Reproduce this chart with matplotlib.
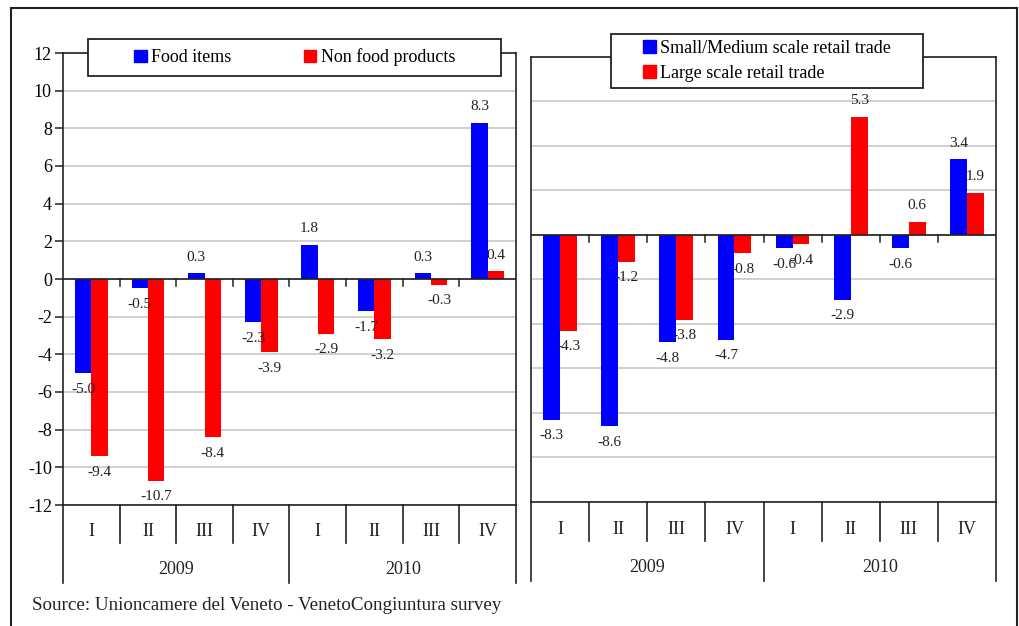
import numpy as np
import matplotlib.pyplot as plt
from matplotlib.patches import Rectangle, Patch
from matplotlib.lines import Line2D
from matplotlib.transforms import blended_transform_factory

plt.rcParams['font.family'] = ['Liberation Serif', 'DejaVu Serif']
plt.rcParams['axes.unicode_minus'] = False

# data
quarters = ['I', 'II', 'III', 'IV', 'I', 'II', 'III', 'IV']
years = ['2009', '2010']

food = [-5.0, -0.5, 0.3, -2.3, 1.8, -1.7, 0.3, 8.3]
non_food = [-9.4, -10.7, -8.4, -3.9, -2.9, -3.2, -0.3, 0.4]

small_medium = [-8.3, -8.6, -4.8, -4.7, -0.6, -2.9, -0.6, 3.4]
large_scale = [-4.3, -1.2, -3.8, -0.8, -0.4, 5.3, 0.6, 1.9]

W, H = 1020, 626
fig = plt.figure(figsize=(W / 100, H / 100), dpi=100)


def px_box(x0, y0, x1, y1):
    # pixel box (top-left origin) -> figure fraction rect
    return [x0 / W, 1 - y1 / H, (x1 - x0) / W, (y1 - y0) / H]


def fy(py):
    return 1 - py / H


def draw_panel(ax, box, s1, s2, ymin, ymax, show_y, row_px):
    x = np.arange(len(quarters))
    w = 0.29
    b1 = ax.bar(x - w / 2, s1, w, color='#0000ff', zorder=3)
    b2 = ax.bar(x + w / 2, s2, w, color='#ff0000', zorder=3)
    for bars in (b1, b2):
        ax.bar_label(bars, fmt='%.1f', padding=7, fontsize=11,
                     color='#222222', zorder=6)

    ax.set_xlim(-0.5, len(quarters) - 0.5)
    ax.set_ylim(ymin, ymax)
    ax.set_yticks(np.arange(ymin, ymax + 1, 2))
    ax.yaxis.grid(True, color='#c8c8c8', lw=1.2)
    ax.set_axisbelow(True)
    ax.axhline(0, color='#222222', lw=1.2, zorder=4)
    ax.set_xticks([])
    for sp in ax.spines.values():
        sp.set_color('#222222')
        sp.set_linewidth(1.2)
    if show_y:
        ax.tick_params(axis='y', length=6, width=1.1, color='#222222',
                       labelsize=13, pad=2)
    else:
        ax.tick_params(axis='y', left=False, labelleft=False)

    # small ticks under the zero line
    px_per_unit = (box[3] - box[1]) / (ymax - ymin)
    tlen = 7 / px_per_unit
    for b in np.arange(0.5, len(quarters) - 1, 1):
        ax.plot([b, b], [0, -tlen], color='#222222', lw=1.1, zorder=4)

    # two-level category axis below the plot
    tr = blended_transform_factory(ax.transData, fig.transFigure)
    bottom = box[3]
    for b in np.arange(0.5, len(quarters) - 1, 1):
        if b == 3.5:
            continue
        ax.plot([b, b], [fy(bottom), fy(row_px[0] + 11)], transform=tr,
                color='#222222', lw=1.2, clip_on=False)
    for b in [-0.5, 3.5, 7.5]:
        ax.plot([b, b], [fy(bottom), fy(row_px[1] + 13)], transform=tr,
                color='#222222', lw=1.2, clip_on=False)
    for i, q in enumerate(quarters):
        ax.text(i, fy(row_px[0]), q, transform=tr, ha='center', va='center',
                fontsize=13, color='#222222')
    for j, yr in enumerate(years):
        ax.text(1.5 + 4 * j, fy(row_px[1]), yr, transform=tr, ha='center',
                va='center', fontsize=13, color='#222222')


box1 = (63, 53, 516, 505)
box2 = (531, 57, 996, 502)
ax1 = fig.add_axes(px_box(*box1))
ax2 = fig.add_axes(px_box(*box2))

draw_panel(ax1, box1, food, non_food, -12, 12, True, (532, 570))
draw_panel(ax2, box2, small_medium, large_scale, -12, 8, False, (530, 568))

# legends: white framed boxes drawn on top of the axes
for (x0, y0, x1, y1) in [(88, 39, 501, 76), (611, 34, 923, 88)]:
    fig.add_artist(Rectangle((x0 / W, fy(y1)), (x1 - x0) / W, (y1 - y0) / H,
                             transform=fig.transFigure, facecolor='white',
                             edgecolor='#222222', lw=1.3, zorder=5))

h1 = [Patch(color='#0000ff', label='Food items'),
      Patch(color='#ff0000', label='Non food products')]
fig.legend(handles=h1, loc='center', bbox_to_anchor=(294.5 / W, fy(57.5)),
           ncol=2, frameon=False, fontsize=13, handlelength=0.7,
           handleheight=0.7, handletextpad=0.25, columnspacing=4.0,
           borderpad=0).set_zorder(6)

h2 = [Patch(color='#0000ff', label='Small/Medium scale retail trade'),
      Patch(color='#ff0000', label='Large scale retail trade')]
fig.legend(handles=h2, loc='center', bbox_to_anchor=(767 / W, fy(61)),
           ncol=1, frameon=False, fontsize=13, handlelength=0.7,
           handleheight=0.7, handletextpad=0.25, labelspacing=0.45,
           borderpad=0).set_zorder(6)

# outer frame
frame_kw = dict(color='#222222', lw=1.5, transform=fig.transFigure)
fig.add_artist(Line2D([11 / W, 1017 / W], [fy(8), fy(8)], **frame_kw))
fig.add_artist(Line2D([11 / W, 11 / W], [fy(8), 0], **frame_kw))
fig.add_artist(Line2D([1017 / W, 1017 / W], [fy(8), 0], **frame_kw))

fig.text(32 / W, fy(606), 'Source: Unioncamere del Veneto - VenetoCongiuntura survey',
         ha='left', va='center', fontsize=13.7, color='#222222')

fig.savefig('out.png', dpi=100)
